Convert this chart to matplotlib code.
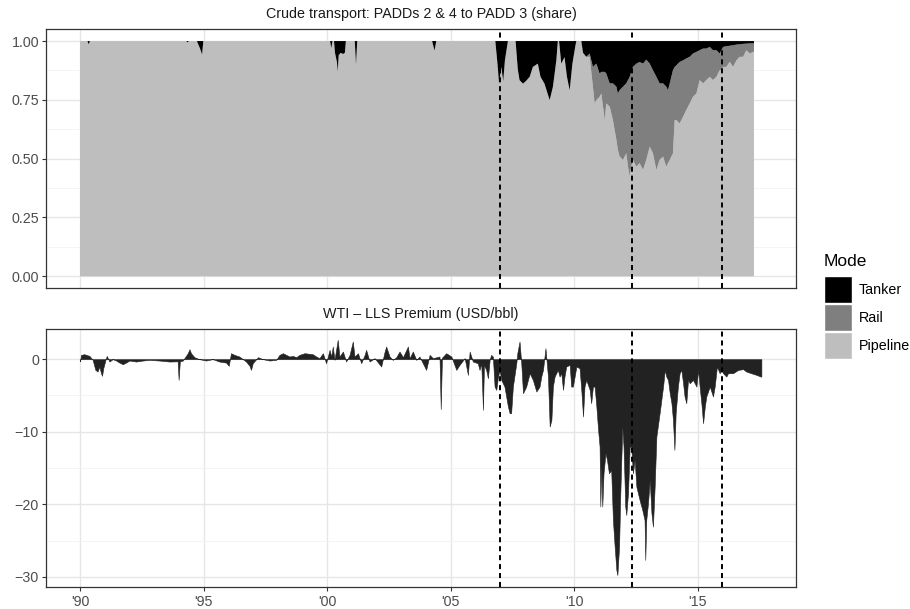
import numpy as np
import matplotlib.pyplot as plt
from matplotlib.patches import Patch

plt.rcParams['font.family'] = ['Liberation Sans', 'DejaVu Sans']

# 运输方式占比 (year, tanker, rail) -- pipeline is the rest
share_years = [1990.00, 1990.30, 1990.35, 1990.40, 1994.30, 1994.35, 1994.40,
               1994.73, 1994.85, 1994.94, 1994.99, 2000.12, 2000.17, 2000.22,
               2000.28, 2000.32, 2000.40, 2000.43, 2000.47, 2000.55, 2000.65,
               2000.72, 2000.76, 2001.12, 2001.17, 2001.22, 2004.25, 2004.35,
               2004.42, 2006.81, 2006.90, 2006.96, 2007.05, 2007.13, 2007.20,
               2007.32, 2007.63, 2007.72, 2007.79, 2007.93, 2008.05, 2008.20,
               2008.33, 2008.53, 2008.64, 2008.80, 2009.01, 2009.14, 2009.28,
               2009.34, 2009.39, 2009.48, 2009.61, 2009.71, 2009.82, 2009.93,
               2010.05, 2010.09, 2010.29, 2010.36, 2010.49, 2010.63, 2010.76,
               2010.83, 2010.90, 2011.03, 2011.10, 2011.24, 2011.30, 2011.44,
               2011.57, 2011.71, 2011.77, 2011.84, 2011.98, 2012.11, 2012.18,
               2012.25, 2012.31, 2012.38, 2012.52, 2012.65, 2012.79, 2012.92,
               2013.06, 2013.19, 2013.33, 2013.46, 2013.60, 2013.73, 2013.80,
               2013.87, 2014.00, 2014.07, 2014.14, 2014.27, 2014.41, 2014.54,
               2014.68, 2014.81, 2014.95, 2015.08, 2015.22, 2015.35, 2015.49,
               2015.62, 2015.76, 2015.89, 2015.96, 2016.03, 2016.16, 2016.30,
               2016.43, 2016.57, 2016.70, 2016.84, 2016.97, 2017.11, 2017.24,
               2017.28]
tanker = [0, 0, 0.014, 0, 0, 0.006, 0,
          0, 0.03, 0.057, 0, 0, 0.03, 0,
          0, 0.05, 0.09, 0.13, 0.06, 0.05, 0.055,
          0.05, 0, 0, 0.10, 0, 0, 0.04,
          0, 0, 0.10, 0.18, 0.11, 0.17, 0.08,
          0, 0, 0.12, 0.166, 0.181, 0.17, 0.152,
          0.110, 0.096, 0.152, 0.181, 0.251, 0.195, 0.082,
          0, 0, 0.096, 0.068, 0.152, 0.209, 0.096,
          0.02, 0, 0, 0.05, 0.067, 0.053, 0.11,
          0.103, 0.096, 0.138, 0.131, 0.131, 0.138, 0.18,
          0.18, 0.194, 0.223, 0.209, 0.194, 0.18, 0.166,
          0.152, 0.131, 0.11, 0.096, 0.089, 0.096, 0.079,
          0.096, 0.124, 0.152, 0.18, 0.18, 0.194, 0.209,
          0.18, 0.124, 0.11, 0.103, 0.089, 0.082, 0.074,
          0.067, 0.053, 0.046, 0.039, 0.032, 0.032, 0.025,
          0.039, 0.039, 0.053, 0.039, 0.025, 0.022, 0.02,
          0.018, 0.015, 0.014, 0.012, 0.011, 0.010, 0.010,
          0.010]
rail = [0, 0, 0, 0, 0, 0, 0,
        0, 0, 0, 0, 0, 0, 0,
        0, 0, 0, 0, 0, 0, 0,
        0, 0, 0, 0, 0, 0, 0,
        0, 0, 0, 0, 0, 0, 0,
        0, 0, 0, 0, 0, 0, 0,
        0, 0, 0, 0, 0, 0, 0,
        0, 0, 0, 0, 0, 0, 0,
        0, 0, 0, 0, 0, 0.014, 0.084,
        0.162, 0.155, 0.099, 0.092, 0.205, 0.127, 0.099,
        0.156, 0.226, 0.24, 0.282, 0.311, 0.297, 0.368,
        0.424, 0.403, 0.395, 0.438, 0.43, 0.452, 0.426,
        0.353, 0.353, 0.396, 0.325, 0.311, 0.34, 0.31,
        0.325, 0.353, 0.226, 0.233, 0.261, 0.24, 0.219,
        0.198, 0.184, 0.177, 0.127, 0.148, 0.134, 0.127,
        0.127, 0.113, 0.071, 0.085, 0.085, 0.088, 0.068,
        0.092, 0.067, 0.053, 0.055, 0.028, 0.043, 0.036,
        0.036]

# WTI - LLS 价差
prem_years = [1990.00, 1990.04, 1990.17, 1990.38, 1990.51, 1990.62, 1990.71,
              1990.78, 1990.85, 1990.89, 1990.94, 1991.03, 1991.08, 1991.19,
              1991.32, 1991.46, 1991.59, 1991.73, 1991.86, 1992.00, 1992.27,
              1992.54, 1992.81, 1993.21, 1993.62, 1993.95, 1993.99, 1994.04,
              1994.16, 1994.36, 1994.43, 1994.49, 1994.63, 1994.83, 1995.10,
              1995.37, 1995.64, 1995.91, 1996.02, 1996.11, 1996.25, 1996.45,
              1996.72, 1996.86, 1996.92, 1996.99, 1997.20, 1997.40, 1997.67,
              1997.94, 1998.07, 1998.21, 1998.48, 1998.61, 1998.75, 1998.88,
              1999.09, 1999.42, 1999.56, 1999.69, 1999.83, 1999.96, 2000.10,
              2000.17, 2000.23, 2000.30, 2000.43, 2000.50, 2000.64, 2000.77,
              2000.91, 2001.04, 2001.11, 2001.25, 2001.38, 2001.52, 2001.58,
              2001.72, 2001.92, 2002.19, 2002.33, 2002.39, 2002.53, 2002.66,
              2002.80, 2002.93, 2003.07, 2003.27, 2003.34, 2003.47, 2003.61,
              2003.74, 2004.01, 2004.15, 2004.28, 2004.55, 2004.60, 2004.65,
              2004.82, 2005.03, 2005.23, 2005.36, 2005.57, 2005.70, 2005.77,
              2005.90, 2006.10, 2006.17, 2006.24, 2006.31, 2006.35, 2006.44,
              2006.51, 2006.58, 2006.64, 2006.71, 2006.78, 2006.85, 2006.91,
              2006.98, 2007.05, 2007.18, 2007.32, 2007.39, 2007.45, 2007.52,
              2007.66, 2007.70, 2007.79, 2007.86, 2007.93, 2008.06, 2008.20,
              2008.33, 2008.47, 2008.60, 2008.67, 2008.74, 2008.84, 2008.94,
              2009.01, 2009.08, 2009.14, 2009.21, 2009.34, 2009.41, 2009.48,
              2009.55, 2009.61, 2009.68, 2009.82, 2009.88, 2009.95, 2010.09,
              2010.22, 2010.29, 2010.36, 2010.42, 2010.49, 2010.63, 2010.69,
              2010.76, 2010.83, 2010.90, 2010.97, 2011.03, 2011.06, 2011.10,
              2011.14, 2011.19, 2011.27, 2011.33, 2011.41, 2011.50, 2011.57,
              2011.64, 2011.71, 2011.75, 2011.82, 2011.87, 2011.95, 2012.00,
              2012.07, 2012.11, 2012.18, 2012.25, 2012.31, 2012.38, 2012.45,
              2012.52, 2012.65, 2012.76, 2012.85, 2012.88, 2012.92, 2012.99,
              2013.06, 2013.13, 2013.19, 2013.26, 2013.33, 2013.46, 2013.60,
              2013.67, 2013.73, 2013.80, 2013.87, 2013.94, 2014.00, 2014.06,
              2014.11, 2014.20, 2014.27, 2014.34, 2014.41, 2014.47, 2014.54,
              2014.61, 2014.68, 2014.81, 2014.95, 2015.02, 2015.08, 2015.15,
              2015.22, 2015.29, 2015.35, 2015.49, 2015.62, 2015.69, 2015.78,
              2015.89, 2015.96, 2016.03, 2016.16, 2016.23, 2016.43, 2016.64,
              2016.84, 2016.97, 2017.17, 2017.38, 2017.55, 2017.58]
premium = [-0.3, 0.59, 0.68, 0.45, -0.1, -1.48, -1.71,
           -1.02, -1.94, -2.30, -1.25, -0.1, 0.45, -0.33,
           0, -0.19, -0.47, -0.70, -0.47, -0.19, -0.33,
           -0.19, -0.1, -0.19, -0.33, -0.3, -2.86, -0.3,
           -0.19, 0.82, 1.37, 0.82, 0.27, 0, -0.19,
           0, -0.33, -0.47, -0.92, 0.82, 0.59, 0.36,
           -0.33, -0.92, -1.48, -0.56, 0.27, 0, -0.19,
           -0.1, 0.59, 0.82, 0.36, 0.45, 0.27, 0.59,
           0.82, 0.68, 0.36, 0.14, 0.82, -0.56, 1.28,
           0.36, 1.74, -0.1, 2.66, 0.36, 1.05, -0.33,
           0.59, 2.43, 0.36, 0.82, -0.56, 0.59, 1.28,
           -0.33, 0.14, -1.01, 1.05, 1.74, 0.36, -0.1,
           0.27, 1.05, 0.27, 1.74, 0.14, 1.05, -0.1,
           0.36, -1.48, 0.59, 0.14, 0.36, -6.9, 0.2,
           0.82, 0.36, -1.48, -0.79, 0.14, -2.17, 1.05,
           -0.33, -0.56, -1.48, -0.56, -6.99, -0.79, -1.48,
           -2.63, -0.1, 0.59, 0.36, -3.78, -4.23, -2.63,
           -1.48, -2.86, -3.78, -6.53, -7.45, -7.45, -3.78,
           -0.56, 0.82, 2.43, -0.56, -4.69, -3.78, -1.94,
           -2.86, -4.46, -3.78, -2.40, -1.48, 1.51, -2.40,
           -9.29, -8.37, -3.78, -2.40, -1.48, -2.40, -1.94,
           -4.23, -2.40, -1.02, -0.79, -3.78, -3.78, -1.02,
           -1.25, -4.23, -7.91, -3.78, -2.86, -4.23, -6.07,
           -3.78, -3.78, -6.53, -9.75, -12.05, -20.3, -14.81,
           -20.33, -15.73, -12.97, -13.89, -15.73, -15.27, -22.17,
           -25.84, -29.06, -29.75, -25.84, -18.49, -9.29, -12.05,
           -20.33, -21.48, -18.49, -12.05, -12.05, -15.73, -13.89,
           -17.57, -19.41, -20.79, -22.17, -27.68, -22.17, -19.87,
           -16.65, -21.25, -23.09, -17.57, -10.67, -7.45, -3.78,
           -1.48, -2.40, -2.86, -4.69, -6.07, -8.37, -12.51,
           -7.45, -3.78, -1.94, -1.48, -3.32, -5.15, -6.07,
           -2.86, -3.32, -2.86, -3.78, -1.48, -3.78, -6.07,
           -8.83, -6.53, -5.15, -3.78, -5.15, -3.78, -1.02,
           -1.94, -1.48, -1.94, -2.40, -1.94, -1.94, -1.48,
           -1.38, -1.71, -1.94, -2.17, -2.40, -2.40]

events = [2007.0, 2012.33, 2016.0]
x_ticks = [1990, 1995, 2000, 2005, 2010, 2015]
x_labels = ["'90", "'95", "'00", "'05", "'10", "'15"]
modes = ['Tanker', 'Rail', 'Pipeline']
mode_colors = ['#000000', '#7f7f7f', '#bebebe']

tanker = np.array(tanker)
rail = np.array(rail)
pipeline = 1 - tanker - rail

fig = plt.figure(figsize=(9.1, 6.09), dpi=100)
ax1 = fig.add_axes([0.0505, 0.527, 0.8242, 0.4249])
ax2 = fig.add_axes([0.0505, 0.0361, 0.8242, 0.4242])


def style(ax, yticks, yminor):
    ax.set_xlim(1988.62, 2018.98)
    ax.set_xticks(x_ticks)
    ax.set_yticks(yticks)
    ax.set_yticks(yminor, minor=True)
    ax.grid(True, which='major', color='#e6e6e6', lw=1.0, zorder=0)
    ax.grid(True, which='minor', axis='y', color='#f2f2f2', lw=0.6, zorder=0)
    ax.set_axisbelow(True)
    for s in ax.spines.values():
        s.set_color('#333333')
        s.set_linewidth(0.9)
    ax.tick_params(which='major', length=3, width=0.8, color='#333333',
                   labelcolor='#4d4d4d', labelsize=10.3, pad=2)
    ax.tick_params(which='minor', length=0)
    for e in events:
        ax.axvline(e, color='black', lw=1.4, ls=(0, (2.6, 2.0)), zorder=5)


# 上图: 运输方式
ax1.stackplot(share_years, pipeline, rail, tanker,
              colors=mode_colors[::-1], lw=0, zorder=2)
style(ax1, [0, 0.25, 0.5, 0.75, 1.0], [0.125, 0.375, 0.625, 0.875])
ax1.set_ylim(-0.05, 1.05)
ax1.set_yticklabels(['0.00', '0.25', '0.50', '0.75', '1.00'])
ax1.tick_params(axis='x', bottom=False, labelbottom=False)
ax1.set_title('Crude transport: PADDs 2 & 4 to PADD 3 (share)',
              fontsize=10.3, color='#1a1a1a', pad=8)

# 下图: 价差
ax2.fill_between(prem_years, premium, 0, color='#222222', lw=0.4, zorder=2)
style(ax2, [0, -10, -20, -30], [-5, -15, -25])
ax2.set_ylim(-31.4, 4.2)
ax2.set_xticklabels(x_labels)
ax2.tick_params(axis='x', pad=3)
ax2.set_title('WTI \u2013 LLS Premium (USD/bbl)',
              fontsize=10.3, color='#1a1a1a', pad=8)

# 图例
fig.text(0.905, 1 - 262 / 609, 'Mode', fontsize=12.5, va='center', ha='left')
handles = [Patch(facecolor=c, edgecolor='white', lw=1.0) for c in mode_colors]
leg = fig.legend(handles, modes, loc='upper left',
                 bbox_to_anchor=(0.905, 1 - 276 / 609), frameon=False,
                 fontsize=10.3, handlelength=2.0, handleheight=2.5,
                 labelspacing=0.08, handletextpad=0.45, borderpad=0,
                 borderaxespad=0)

plt.savefig('out.png', dpi=100)
